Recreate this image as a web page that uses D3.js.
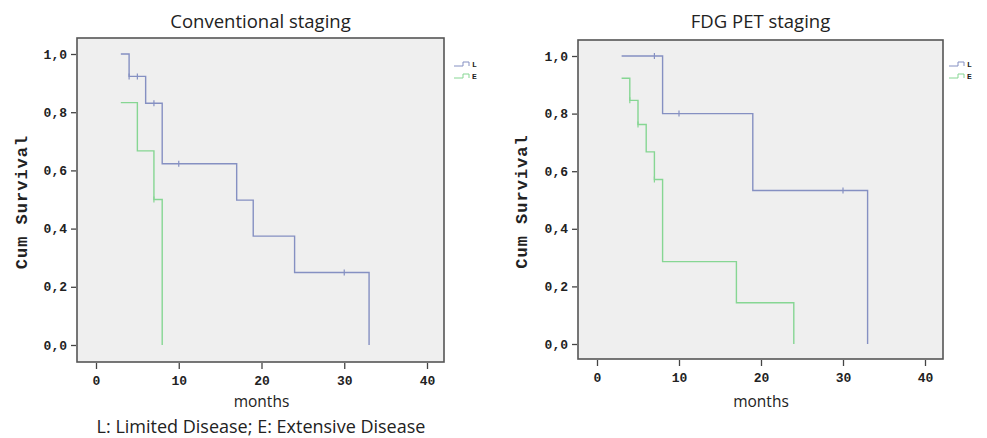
<!DOCTYPE html>
<html lang='en'>
<head>
  <meta charset='UTF-8'>
  <title>Kaplan-Meier survival by staging</title>
  <style>
  body { margin: 0; background: #fff; }
  .tick text { font-family: 'Liberation Mono', 'DejaVu Sans Mono', monospace; font-weight: bold; font-size: 13px; fill: #222; }
  .tick line { stroke: #444; stroke-width: 1.3; }
  .domain { display: none; }
  .title { font-family: 'Open Sans', 'Noto Sans', sans-serif; font-size: 18.5px; fill: #222; }
  .xlabel { font-family: 'Open Sans', 'Noto Sans', sans-serif; font-size: 15.5px; fill: #222; }
  .ylabel { font-family: 'Liberation Mono', monospace; font-weight: bold; font-size: 17px; letter-spacing: 1px; fill: #222; }
  .leg { font-family: 'Liberation Mono', monospace; font-weight: bold; font-size: 8px; fill: #222; }
  </style>
  <script src="https://d3js.org/d3.v7.min.js"></script>
</head>
<body>
  <script>

  // survival steps: [months, cumulative survival]
  var convL = [[3, 1], [4, 0.923], [6, 0.831], [8, 0.623], [17, 0.498], [19, 0.374], [24, 0.249], [33, 0]];
  var convE = [[3, 0.833], [5, 0.667], [7, 0.5], [8, 0]];
  var petL = [[3, 1], [8, 0.8], [19, 0.533], [33, 0]];
  var petE = [[3, 0.923], [4, 0.846], [5, 0.762], [6, 0.667], [7, 0.571], [8, 0.286], [17, 0.143], [24, 0]];

  // censored observations (months)
  var convLCens = [4, 5, 7, 10, 30];
  var convECens = [7];
  var petLCens = [7, 10, 30];
  var petECens = [4, 5, 7];

  var xTicks = [0, 10, 20, 30, 40];
  var yTicks = [0, 0.2, 0.4, 0.6, 0.8, 1.0];
  var groups = ['L', 'E'];
  var colors = { L: '#8590c2', E: '#86d693' };

  var svg = d3.select('body').append('svg').attr('width', 987).attr('height', 438);

  function survAt(steps, t) {
    var s = steps[0][1];
    steps.forEach(function (d) { if (d[0] <= t) s = d[1]; });
    return s;
  }

  function drawPanel(p) {
    var x = d3.scaleLinear().domain([0, 40]).range([p.x0, p.x40]);
    var y = d3.scaleLinear().domain([0, 1]).range([p.y0, p.y1]);
    var g = svg.append('g');

    g.append('rect')
     .attr('x', p.box[0]).attr('y', p.box[1])
     .attr('width', p.box[2] - p.box[0]).attr('height', p.box[3] - p.box[1])
     .attr('fill', '#efefef').attr('stroke', '#555').attr('stroke-width', 1.6);

    g.append('g')
     .attr('transform', 'translate(0,' + (p.box[3] + 1) + ')')
     .call(d3.axisBottom(x).tickValues(xTicks).tickSize(6).tickPadding(7).tickSizeOuter(0));

    g.append('g')
     .attr('transform', 'translate(' + (p.box[0] - 1) + ',0)')
     .call(d3.axisLeft(y).tickValues(yTicks).tickSize(5).tickPadding(4).tickSizeOuter(0)
       .tickFormat(function (d) { return d3.format('.1f')(d).replace('.', ','); }));

    var line = d3.line()
      .x(function (d) { return x(d[0]); })
      .y(function (d) { return y(d[1]); })
      .curve(d3.curveStepAfter);

    p.series.forEach(function (s) {
      g.append('path')
       .attr('d', line(s.steps))
       .attr('fill', 'none')
       .attr('stroke', colors[s.key])
       .attr('stroke-width', 1.4);

      g.selectAll(null)
       .data(s.cens)
       .enter()
       .append('line')
       .attr('x1', function (d) { return x(d); })
       .attr('x2', function (d) { return x(d); })
       .attr('y1', function (d) { return y(survAt(s.steps, d)) - 3; })
       .attr('y2', function (d) { return y(survAt(s.steps, d)) + 3; })
       .attr('stroke', colors[s.key])
       .attr('stroke-width', 1.2);
    });

    g.append('text').attr('class', 'title')
     .attr('x', (p.box[0] + p.box[2]) / 2).attr('y', 28)
     .attr('text-anchor', 'middle').text(p.title);

    g.append('text').attr('class', 'xlabel')
     .attr('x', (x(0) + x(40)) / 2).attr('y', 407)
     .attr('text-anchor', 'middle').text('months');

    g.append('text').attr('class', 'ylabel')
     .attr('transform', 'translate(' + p.ylabX + ',' + ((p.box[1] + p.box[3]) / 2 + 2) + ') rotate(-90)')
     .attr('text-anchor', 'middle').text('Cum Survival');

    // legend
    var leg = g.selectAll('.legrow')
      .data(groups)
      .enter()
      .append('g')
      .attr('transform', function (d, i) { return 'translate(' + p.legX + ',' + (66 + i * 12) + ')'; });

    leg.append('path')
       .attr('d', 'M0,0H9V-4H15V0')
       .attr('fill', 'none')
       .attr('stroke', function (d) { return colors[d]; })
       .attr('stroke-width', 1);

    leg.append('text').attr('class', 'leg')
       .attr('x', 18).attr('y', 1).text(function (d) { return d; });
  }

  drawPanel({
    title: 'Conventional staging',
    box: [77, 38, 444, 362],
    x0: 96, x40: 427, y0: 345, y1: 54,
    ylabX: 27, legX: 454,
    series: [
      { key: 'L', steps: convL, cens: convLCens },
      { key: 'E', steps: convE, cens: convECens }
    ]
  });

  drawPanel({
    title: 'FDG PET staging',
    box: [578, 40, 943, 359],
    x0: 597, x40: 925, y0: 344, y1: 56,
    ylabX: 527, legX: 949,
    series: [
      { key: 'L', steps: petL, cens: petLCens },
      { key: 'E', steps: petE, cens: petECens }
    ]
  });

  svg.append('text').attr('class', 'xlabel')
     .attr('x', 261).attr('y', 433)
     .attr('text-anchor', 'middle')
     .style('font-size', '18px')
     .text('L: Limited Disease; E: Extensive Disease');
  </script>
</body>
</html>
